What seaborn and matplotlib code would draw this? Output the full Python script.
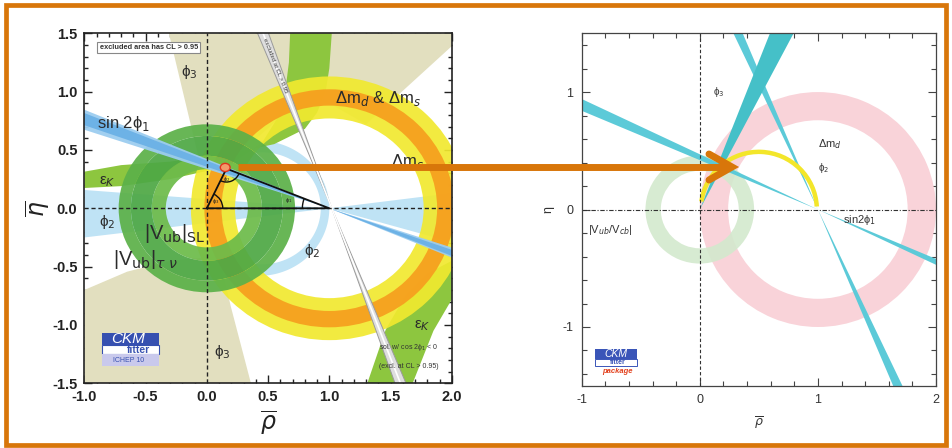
import numpy as np
import matplotlib
matplotlib.use("Agg")
import matplotlib.pyplot as plt
import seaborn as sns
import pandas as pd
from matplotlib.patches import Wedge, Polygon, Rectangle, Ellipse, Arc
from matplotlib.lines import Line2D
from matplotlib.ticker import MultipleLocator, FormatStrFormatter

# ------------------------------------------------------------------
# Data (rho_bar, eta_bar plane)
# ------------------------------------------------------------------
# Left panel : CKMfitter ICHEP 10
APEX = (0.16, 0.34)
VUB_RINGS = [(0.335, 0.45), (0.45, 0.62), (0.62, 0.72)]     # radii about (0, 0)
VUB_COLORS = ["#6dbb4a", "#4ea845", "#5cb149"]
DMD_RING = (0.77, 1.13)        # yellow ring about (1, 0)
DMS_RING = (0.88, 1.02)        # orange ring about (1, 0)
SIN2PHI1_BAND = (18.6, 22.9)   # beta (deg) through (1, 0)
SIN2PHI1_CORE = (19.6, 22.2)
EXCL_POINT = (1.02, 0.0)
EXCL_BAND = (109.0, 112.0)     # direction (deg) through EXCL_POINT
PHI3_UP_RHO = [-0.31, 2.0, 2.0, 1.30, 1.0, 0.6, 0.3, 0.08, -0.05]
PHI3_UP_ETA = [1.5, 1.5, 1.39, 0.72, 0.90, 0.78, 0.5, 0.35, 0.36]
PHI3_LO_RHO = [-1.0, -1.0, -0.65, -0.3, 0.0, 0.12, 0.196, 0.36, 0.36]
PHI3_LO_ETA = [-1.5, -0.70, -0.543, -0.45, -0.42, -0.5, -0.843, -1.5, -1.5]
PHI2_LEFT_RHO = [-1.0, 1.0, -1.0]
PHI2_LEFT_ETA = [0.157, 0.0, -0.25]
PHI2_RIGHT_RHO = [1.0, 2.0, 2.0]
PHI2_RIGHT_ETA = [0.0, 0.13, -0.29]
PHI2_ARC_IN = (0.45, 0.48)     # centre rho, radius
PHI2_ARC_OUT = (0.42, 0.58)
EPSK_UP_LO_RHO = [-1.0, -0.7, -0.3, 0.0, 0.25, 0.45, 0.58, 0.64, 0.67, 0.68]
EPSK_UP_LO_ETA = [0.174, 0.19, 0.25, 0.32, 0.42, 0.56, 0.78, 1.0, 1.25, 1.5]
EPSK_UP_HI_RHO = [1.02, 1.0, 0.97, 0.9, 0.8, 0.55, 0.2, -0.3, -0.7, -1.0]
EPSK_UP_HI_ETA = [1.5, 1.2, 1.0, 0.82, 0.68, 0.55, 0.47, 0.40, 0.37, 0.314]
EPSK_LO_RHO = [1.31, 1.46, 1.62, 1.8, 2.0, 2.0, 1.85, 1.68]
EPSK_LO_ETA = [-1.5, -1.04, -0.75, -0.56, -0.45, -0.78, -1.05, -1.5]

# Right panel : older CKMfitter package plot
R_DMD_RING = (0.76, 1.0)        # pink ring about (1, 0)
R_VUB_RING = (0.33, 0.46)       # light green ring about (0, 0)
R_PHI2_ARC = (0.5, 0.51, 0.038, 3, 172)   # centre rho, r, width, theta1, theta2
R_SIN2PHI1 = (22.8, 25.2)       # beta (deg) through (1, 0)
R_STEEP = (113.0, 115.5)        # direction (deg) through (1, 0)
R_PHI3 = (62.1, 68.4)           # wedge from origin (deg)

ORANGE = "#d8760a"


def dwedge(ax, p, a1, a2, L=6.0, both=True, **kw):
    bases = (0, 180) if both else (0,)
    for b in bases:
        t1, t2 = np.radians(a1 + b), np.radians(a2 + b)
        pts = [p, (p[0] + L * np.cos(t1), p[1] + L * np.sin(t1)),
               (p[0] + L * np.cos(t2), p[1] + L * np.sin(t2))]
        ax.add_patch(Polygon(pts, closed=True, **kw))


def arcband(c_in, c_out, t1, t2, n=120):
    t = np.radians(np.linspace(t1, t2, n))
    xo = c_out[0] + c_out[1] * np.cos(t)
    yo = c_out[1] * np.sin(t)
    xi = c_in[0] + c_in[1] * np.cos(t[::-1])
    yi = c_in[1] * np.sin(t[::-1])
    return np.column_stack([np.r_[xo, xi], np.r_[yo, yi]])


sns.set_theme(style="ticks")
plt.rcParams["font.family"] = ["Liberation Sans", "DejaVu Sans"]
plt.rcParams["mathtext.fontset"] = "dejavusans"
plt.rcParams["axes.unicode_minus"] = False

fig = plt.figure(figsize=(9.52, 4.48), dpi=100)
fig.patch.set_facecolor("white")

# ================= LEFT PANEL =================
axL = fig.add_axes([0.0886, 0.1444, 0.386, 0.7813])
axL.set_xlim(-1.0, 2.0)
axL.set_ylim(-1.5, 1.5)
axL.set_facecolor("white")

beige = "#e2dfbf"
axL.add_patch(Polygon(np.column_stack([PHI3_UP_RHO, PHI3_UP_ETA]), fc=beige, ec="none", zorder=1))
axL.add_patch(Polygon(np.column_stack([PHI3_LO_RHO, PHI3_LO_ETA]), fc=beige, ec="none", zorder=1))

lblue = "#bfe3f5"
axL.add_patch(Polygon(np.column_stack([PHI2_LEFT_RHO, PHI2_LEFT_ETA]), fc=lblue, ec="none", zorder=2))
axL.add_patch(Polygon(np.column_stack([PHI2_RIGHT_RHO, PHI2_RIGHT_ETA]), fc=lblue, ec="none", zorder=2))
axL.add_patch(Polygon(arcband(PHI2_ARC_IN, PHI2_ARC_OUT, -100, 100), fc=lblue, ec="none", zorder=2))

epsk = "#8dc63f"
up = np.column_stack([EPSK_UP_LO_RHO + EPSK_UP_HI_RHO, EPSK_UP_LO_ETA + EPSK_UP_HI_ETA])
axL.add_patch(Polygon(up, fc=epsk, ec="none", zorder=3))
axL.add_patch(Polygon(np.column_stack([EPSK_LO_RHO, EPSK_LO_ETA]), fc=epsk, ec="none", zorder=3))

axL.add_patch(Wedge((1, 0), DMD_RING[1], 0, 360, width=DMD_RING[1] - DMD_RING[0],
                    fc="#f1e92f", ec="none", alpha=0.92, zorder=4))
axL.add_patch(Wedge((1, 0), DMS_RING[1], 0, 360, width=DMS_RING[1] - DMS_RING[0],
                    fc="#f6a01f", ec="none", alpha=0.95, zorder=5))

for (r1, r2), col in zip(VUB_RINGS, VUB_COLORS):
    axL.add_patch(Wedge((0, 0), r2, 0, 360, width=r2 - r1, fc=col, ec="none", alpha=0.93, zorder=6))

dwedge(axL, (1, 0), 180 - SIN2PHI1_BAND[1], 180 - SIN2PHI1_BAND[0], fc="#9ccdf0", ec="none", alpha=0.95, zorder=7)
dwedge(axL, (1, 0), 180 - SIN2PHI1_CORE[1], 180 - SIN2PHI1_CORE[0], fc="#6db2e6", ec="none", zorder=7)

dwedge(axL, EXCL_POINT, EXCL_BAND[0], EXCL_BAND[1], fc="#dedede", ec="#9a9a9a", lw=0.7, zorder=8)
mid = np.radians(np.mean(EXCL_BAND))
sns.lineplot(x=[EXCL_POINT[0] + 3 * np.cos(mid), EXCL_POINT[0] - 3 * np.cos(mid)],
             y=[3 * np.sin(mid), -3 * np.sin(mid)], ax=axL, color="white", lw=1.2,
             sort=False, estimator=None, zorder=8.5)

# axes cross
sns.lineplot(x=[0, 0], y=[-1.5, 1.5], ax=axL, color="#222222", lw=1.0, sort=False, estimator=None,
             zorder=9, linestyle=(0, (3, 2)))
sns.lineplot(x=[-1, 2], y=[0, 0], ax=axL, color="#222222", lw=1.0, sort=False, estimator=None,
             zorder=9, linestyle=(0, (3, 2)))

# unitarity triangle
tri = pd.DataFrame({"rho": [0, 1, APEX[0], 0], "eta": [0, 0, APEX[1], 0]})
sns.lineplot(data=tri, x="rho", y="eta", ax=axL, color="#111111", lw=1.3, sort=False,
             estimator=None, zorder=10)
axL.add_patch(Arc((0, 0), 0.26, 0.27, theta1=0, theta2=65, color="#111111", lw=1.0, zorder=10))
axL.add_patch(Arc((1, 0), 0.44, 0.46, theta1=158, theta2=180, color="#111111", lw=1.0, zorder=10))
axL.add_patch(Arc(APEX, 0.22, 0.23, theta1=245, theta2=338, color="#111111", lw=1.0, zorder=10))
axL.add_patch(Ellipse((0.15, 0.35), 0.08, 0.07, fc="#f39a6a", ec="#e0341e", lw=1.0, zorder=11))
for s, (x, y) in zip(["ϕ$_3$", "ϕ$_2$", "ϕ$_1$"], [(0.07, 0.057), (0.163, 0.25), (0.667, 0.063)]):
    axL.text(x, y, s, fontsize=4, ha="center", va="center", color="#222", zorder=11)

# labels
tc = "#2b2b2b"
axL.text(-0.9, 0.73, "sin 2ϕ$_1$", fontsize=12, color=tc, va="center", zorder=12)
axL.text(-0.143, 1.17, "ϕ$_3$", fontsize=11, color=tc, ha="center", va="center", zorder=12)
axL.text(0.127, -1.23, "ϕ$_3$", fontsize=11, color=tc, ha="center", va="center", zorder=12)
axL.text(1.40, 0.94, "Δm$_d$ & Δm$_s$", fontsize=12, color=tc, ha="center", va="center", zorder=12)
axL.text(1.64, 0.40, "Δm$_s$", fontsize=12, color=tc, ha="center", va="center", zorder=12)
axL.text(-0.81, 0.23, "ε$_K$", fontsize=11, color=tc, ha="center", va="center", zorder=12)
axL.text(1.76, -1.01, "ε$_K$", fontsize=11, color=tc, ha="center", va="center", zorder=12)
axL.text(-0.81, -0.12, "ϕ$_2$", fontsize=11, color=tc, ha="center", va="center", zorder=12)
axL.text(0.86, -0.37, "ϕ$_2$", fontsize=11, color=tc, ha="center", va="center", zorder=12)
axL.text(-0.26, -0.22, r"|V$_{\rm ub}$|$_{\rm SL}$", fontsize=14.5, color=tc, ha="center", va="center", zorder=12)
axL.text(-0.50, -0.44, r"|V$_{\rm ub}$|$_{\tau\ \nu}$", fontsize=14.5, color=tc, ha="center", va="center", zorder=12)
axL.text(-0.475, 1.378, "excluded area has CL > 0.95", fontsize=5.3, fontweight="bold", color="#333",
         ha="center", va="center", zorder=12,
         bbox=dict(boxstyle="square,pad=0.3", fc="white", ec="#888888", lw=0.8))
axL.text(1.65, -1.19, "sol. w/ cos 2ϕ$_1$ < 0", fontsize=5, color="#333", ha="center", va="center", zorder=12)
axL.text(1.65, -1.36, "(excl. at CL > 0.95)", fontsize=5, color="#333", ha="center", va="center", zorder=12)
axL.text(0.555, 1.22, "excluded at CL > 0.95", fontsize=4.3, color="#333", rotation=-68.4,
         ha="center", va="center", zorder=12, rotation_mode="anchor")

# logo
axL.add_patch(Rectangle((-0.853, -1.171), 0.463, 0.100, fc="#3650b0", ec="none", zorder=12))
axL.add_patch(Rectangle((-0.853, -1.251), 0.463, 0.080, fc="white", ec="#3650b0", lw=0.8, zorder=12))
axL.add_patch(Rectangle((-0.853, -1.351), 0.463, 0.100, fc="#c9c9ec", ec="none", zorder=12))
axL.text(-0.64, -1.118, "CKM", fontsize=11, color="white", style="italic", ha="center", va="center", zorder=13)
axL.text(-0.56, -1.213, "fitter", fontsize=7.5, color="#3650b0", fontweight="bold", ha="center", va="center", zorder=13)
axL.text(-0.64, -1.301, "ICHEP 10", fontsize=5, color="#3650b0", ha="center", va="center", zorder=13)

axL.xaxis.set_major_locator(MultipleLocator(0.5))
axL.xaxis.set_minor_locator(MultipleLocator(0.1))
axL.yaxis.set_major_locator(MultipleLocator(0.5))
axL.yaxis.set_minor_locator(MultipleLocator(0.1))
axL.xaxis.set_major_formatter(FormatStrFormatter("%.1f"))
axL.yaxis.set_major_formatter(FormatStrFormatter("%.1f"))
axL.tick_params(which="both", direction="in", top=True, right=True, color="#222", width=1.0)
axL.tick_params(which="major", length=6, pad=5, labelsize=10.5, labelcolor="#222")
axL.tick_params(which="minor", length=3)
for lab in axL.get_xticklabels() + axL.get_yticklabels():
    lab.set_fontweight("bold")
for sp in axL.spines.values():
    sp.set_linewidth(1.2)
    sp.set_color("#222")
    sp.set_zorder(20)
axL.set_xlabel(r"$\overline{\rho}$", fontsize=17, color="#222")
axL.set_ylabel(r"$\overline{\eta}$", fontsize=17, color="#222")
axL.xaxis.set_label_coords(0.5, -0.113)
axL.xaxis.label.set_va("center")
axL.yaxis.set_label_coords(-0.126, 0.5)
axL.yaxis.label.set_va("center")

# ================= RIGHT PANEL =================
axR = fig.add_axes([0.611, 0.139, 0.3722, 0.7866])
axR.set_xlim(-1.0, 2.0)
axR.set_ylim(-1.5, 1.5)
axR.set_facecolor("white")

axR.add_patch(Wedge((1, 0), R_DMD_RING[1], 0, 360, width=R_DMD_RING[1] - R_DMD_RING[0],
                    fc="#f9d3d9", ec="none", zorder=1))
axR.add_patch(Wedge((0, 0), R_VUB_RING[1], 0, 360, width=R_VUB_RING[1] - R_VUB_RING[0],
                    fc="#d3e9cd", ec="none", alpha=0.9, zorder=2))
cyan = "#5ccad8"
dwedge(axR, (1, 0), 180 - R_SIN2PHI1[1], 180 - R_SIN2PHI1[0], fc=cyan, ec="none", zorder=3)
dwedge(axR, (1, 0), R_STEEP[0], R_STEEP[1], fc=cyan, ec="none", zorder=3)
dwedge(axR, (0, 0), R_PHI3[0], R_PHI3[1], both=False, fc="#45c0c8", ec="none", zorder=3)
c, r, w, t1, t2 = R_PHI2_ARC
axR.add_patch(Wedge((c, 0), r, t1, t2, width=w, fc="#f3e62a", ec="none", zorder=4))

sns.lineplot(x=[0, 0], y=[-1.5, 1.5], ax=axR, color="#333", lw=0.8, sort=False, estimator=None,
             zorder=5, linestyle=(0, (3, 2)))
sns.lineplot(x=[-1, 2], y=[0, 0], ax=axR, color="#333", lw=0.8, sort=False, estimator=None,
             zorder=5, linestyle=(0, (4, 1.5, 1, 1.5)))

tr = "#333333"
axR.text(0.164, 1.0, "ϕ$_3$", fontsize=7, color=tr, ha="center", va="center", zorder=6)
axR.text(1.10, 0.56, "Δm$_d$", fontsize=8, color=tr, ha="center", va="center", zorder=6)
axR.text(1.045, 0.356, "ϕ$_2$", fontsize=7, color=tr, ha="center", va="center", zorder=6)
axR.text(1.35, -0.093, "sin2ϕ$_1$", fontsize=8, color=tr, ha="center", va="center", zorder=6)
axR.text(-0.76, -0.175, "|V$_{ub}$/V$_{cb}$|", fontsize=8, color=tr, ha="center", va="center", zorder=6)

axR.add_patch(Rectangle((-0.887, -1.274), 0.358, 0.085, fc="#3a55b8", ec="none", zorder=6))
axR.add_patch(Rectangle((-0.887, -1.33), 0.358, 0.056, fc="white", ec="#3a55b8", lw=0.7, zorder=6))
axR.text(-0.708, -1.231, "CKM", fontsize=7.5, color="white", style="italic", ha="center", va="center", zorder=7)
axR.text(-0.69, -1.302, "fitter", fontsize=5, color="#3a55b8", fontweight="bold", ha="center", va="center", zorder=7)
axR.text(-0.70, -1.375, "package", fontsize=5.5, color="#e2401c", style="italic", fontweight="bold",
         ha="center", va="center", zorder=7)

axR.xaxis.set_major_locator(MultipleLocator(1))
axR.xaxis.set_minor_locator(MultipleLocator(0.2))
axR.yaxis.set_major_locator(MultipleLocator(1))
axR.yaxis.set_minor_locator(MultipleLocator(0.2))
axR.tick_params(which="both", direction="in", top=True, right=True, color="#444", width=0.8)
axR.tick_params(which="major", length=6, pad=6, labelsize=9, labelcolor="#333")
axR.tick_params(which="minor", length=3.5)
for sp in axR.spines.values():
    sp.set_linewidth(0.9)
    sp.set_color("#444")
    sp.set_zorder(20)
axR.set_xlabel(r"$\overline{\rho}$", fontsize=9, color="#333")
axR.set_ylabel("η", fontsize=9, color="#333")
axR.xaxis.set_label_coords(0.5, -0.106)
axR.xaxis.label.set_va("center")
axR.yaxis.set_label_coords(-0.095, 0.5)
axR.yaxis.label.set_va("center")

# ================= frame and arrow (figure pixels) =================
W, H = 952.0, 448.0


def fx(px):
    return px / W


def fy(py):
    return 1 - py / H


fig.add_artist(Rectangle((fx(5.5), fy(445)), (946 - 5.5) / W, (445 - 5.5) / H, transform=fig.transFigure,
                         fill=False, ec=ORANGE, lw=3.4, zorder=50))
fig.add_artist(Line2D([fx(238), fx(728)], [fy(167), fy(167)], transform=fig.transFigure,
                      color=ORANGE, lw=5.0, solid_capstyle="butt", zorder=50))
fig.add_artist(Line2D([fx(709), fx(732), fx(709)], [fy(154), fy(167), fy(180)], transform=fig.transFigure,
                      color=ORANGE, lw=5.0, solid_capstyle="round", solid_joinstyle="miter", zorder=50))

fig.savefig("out.png", dpi=100)
